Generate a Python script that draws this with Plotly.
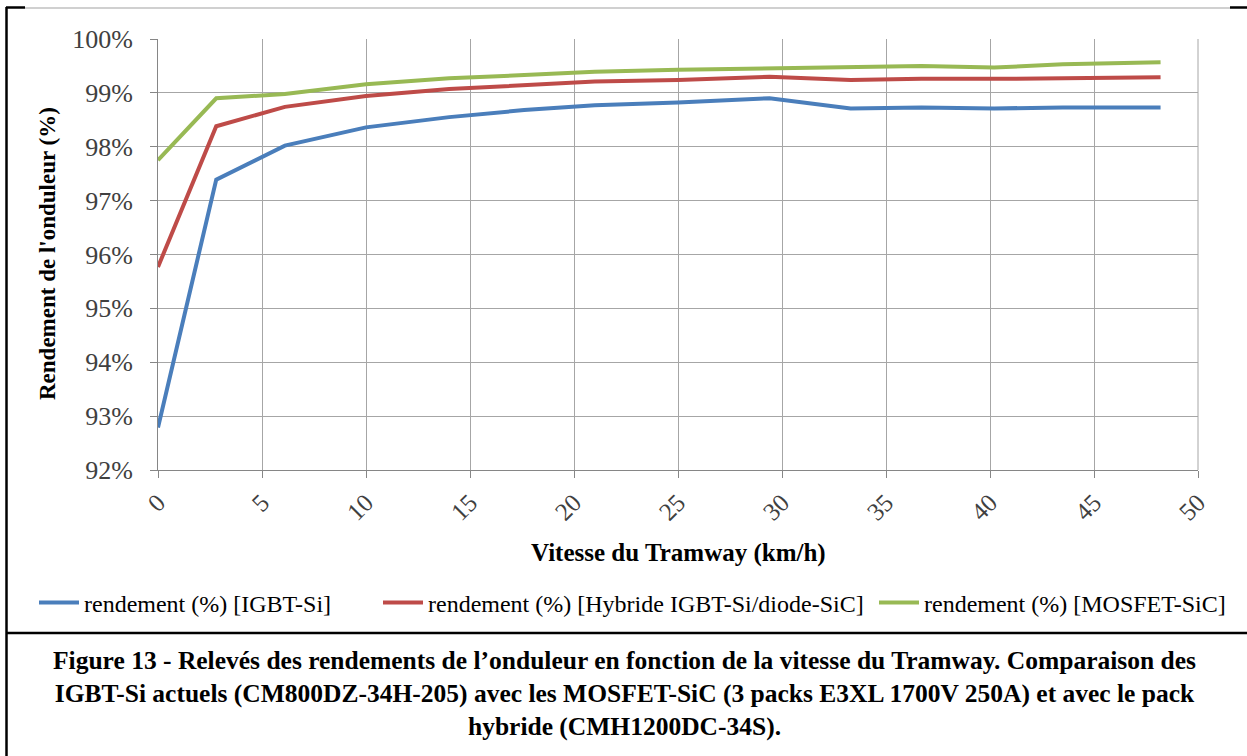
import plotly.graph_objects as go

# vitesse du tramway (km/h)
vitesse = [0, 2.8, 6.1, 10, 14, 17.6, 21, 25, 29.4, 33.3, 36.7, 40.2, 43.5, 48.2]

# rendements (%)
rend_igbt = [92.79, 97.39, 98.02, 98.36, 98.55, 98.68, 98.77, 98.82, 98.90, 98.71, 98.73, 98.71, 98.73, 98.73]
rend_hybride = [95.77, 98.38, 98.74, 98.94, 99.07, 99.15, 99.21, 99.24, 99.30, 99.24, 99.26, 99.26, 99.27, 99.29]
rend_mosfet = [97.75, 98.90, 98.98, 99.16, 99.27, 99.34, 99.39, 99.43, 99.46, 99.48, 99.50, 99.47, 99.53, 99.57]

series_names = [
    "rendement (%) [IGBT-Si]",
    "rendement (%) [Hybride IGBT-Si/diode-SiC]",
    "rendement (%) [MOSFET-SiC]",
]

y_ticks = [92, 93, 94, 95, 96, 97, 98, 99, 100]
y_ticktext = ["92%", "93%", "94%", "95%", "96%", "97%", "98%", "99%", "100%"]
x_ticks = [0, 5, 10, 15, 20, 25, 30, 35, 40, 45, 50]

caption_lines = [
    "Figure 13 - Relevés des rendements de l’onduleur en fonction de la vitesse du Tramway. Comparaison des",
    "IGBT-Si actuels (CM800DZ-34H-205) avec les MOSFET-SiC (3 packs E3XL 1700V 250A) et avec le pack",
    "hybride (CMH1200DC-34S).",
]

W, H = 1247, 756
L, R, T, B = 158, 1198, 39, 470  # plot area in pixels


def px(x):
    return (x - L) / (R - L)


def py(y):
    return (B - y) / (B - T)


serif = "Liberation Serif"
colors = ["#4a7ebb", "#be4b48", "#98b954"]
legend_ids = ["legend", "legend2", "legend3"]
legend_x = [34, 378, 874]  # left edge of each legend entry (px)

fig = go.Figure()
for name, vals, col, lg in zip(series_names, [rend_igbt, rend_hybride, rend_mosfet], colors, legend_ids):
    fig.add_trace(go.Scatter(x=vitesse, y=vals, mode="lines", name=name, legend=lg,
                             line=dict(color=col, width=4)))

fig.update_xaxes(range=[0, 50], tickvals=x_ticks, tickangle=-45,
                 showgrid=True, gridcolor="#a6a6a6", gridwidth=1,
                 showline=True, linecolor="#868686", linewidth=1,
                 ticks="outside", ticklen=7, tickcolor="#868686",
                 tickfont=dict(family=serif, size=25, color="#404040"),
                 zeroline=False)
fig.update_yaxes(range=[92, 100], tickvals=y_ticks, ticktext=y_ticktext,
                 showgrid=True, gridcolor="#a6a6a6", gridwidth=1,
                 showline=True, linecolor="#868686", linewidth=1,
                 ticks="outside", ticklen=7, tickcolor="#868686",
                 ticklabelstandoff=12,
                 tickfont=dict(family=serif, size=26, color="#404040"),
                 zeroline=False)

shapes = [
    # right border of plot area
    dict(type="line", xref="paper", yref="paper", x0=1, x1=1, y0=0, y1=1,
         line=dict(color="#a6a6a6", width=1)),
    # chart area top border (grey)
    dict(type="line", xref="paper", yref="paper", x0=px(25), x1=px(1230), y0=py(8), y1=py(8),
         line=dict(color="#d0d0d0", width=2)),
    # black frame pieces
    dict(type="line", xref="paper", yref="paper", x0=px(6), x1=px(25), y0=py(7.5), y1=py(7.5),
         line=dict(color="black", width=2.5)),
    dict(type="line", xref="paper", yref="paper", x0=px(1230), x1=px(1247), y0=py(7.5), y1=py(7.5),
         line=dict(color="black", width=2.5)),
    dict(type="line", xref="paper", yref="paper", x0=px(6.5), x1=px(6.5), y0=py(7), y1=py(756),
         line=dict(color="black", width=2.5)),
    dict(type="line", xref="paper", yref="paper", x0=px(6), x1=px(1247), y0=py(633), y1=py(633),
         line=dict(color="black", width=2.5)),
]

annotations = [
    dict(text="<b>Rendement de l'onduleur (%)</b>", xref="paper", yref="paper",
         x=px(47), y=py(254), textangle=-90, showarrow=False,
         font=dict(family=serif, size=23, color="black"), xanchor="center", yanchor="middle"),
    dict(text="<b>Vitesse du Tramway (km/h)</b>", xref="paper", yref="paper",
         x=px(678), y=py(553), showarrow=False,
         font=dict(family=serif, size=25, color="black"), xanchor="center", yanchor="middle"),
    dict(text="<b>" + "<br>".join(caption_lines) + "</b>", xref="paper", yref="paper",
         x=px(624), y=py(693), showarrow=False, align="center",
         font=dict(family=serif, size=25.5, color="black"),
         xanchor="center", yanchor="middle"),
]

legends = {}
for lg, lx in zip(legend_ids, legend_x):
    legends[lg] = dict(orientation="h", xref="container", yref="container",
                       x=lx / W, y=1 - 603 / H, xanchor="left", yanchor="middle",
                       font=dict(family=serif, size=24, color="black"),
                       bgcolor="rgba(0,0,0,0)", itemwidth=40)

fig.update_layout(
    width=W, height=H,
    margin=dict(l=L, r=W - R, t=T, b=H - B, pad=0),
    paper_bgcolor="white", plot_bgcolor="white",
    font=dict(family=serif, color="black"),
    shapes=shapes, annotations=annotations,
    showlegend=True,
    **legends,
)

fig.write_html("out.html", config={"displayModeBar": False},
               post_script="document.body.style.margin='0';")
